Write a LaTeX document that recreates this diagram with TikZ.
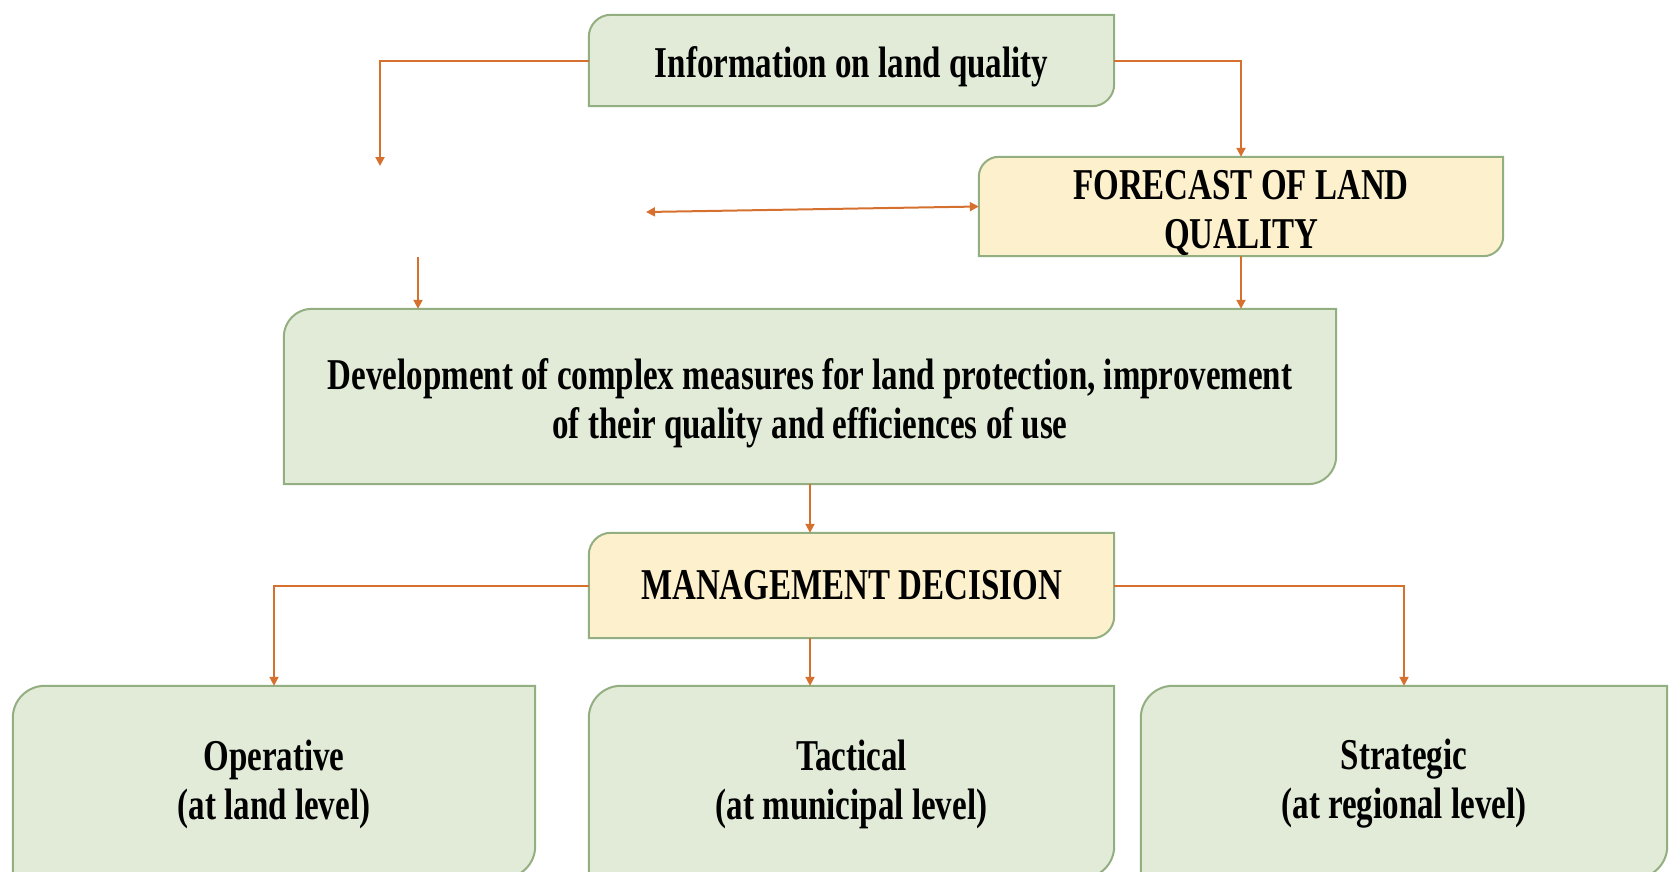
\documentclass[tikz,border=0pt]{standalone}
\usepackage{fontspec}
\setmainfont{Liberation Serif}[FakeStretch=0.75]
\usetikzlibrary{arrows.meta,backgrounds,calc}
\definecolor{gfill}{HTML}{E2EBD7}
\definecolor{yfill}{HTML}{FDF0CD}
\definecolor{bordc}{HTML}{93AE80}
\definecolor{arrc}{HTML}{D6702E}
\newcommand{\diagshape}[3]{%
 \begin{scope}[on background layer]
 \fill[black, opacity=0.12, xshift=2pt, yshift=-3pt]
   ([yshift=-#2pt]#1.north west) .. controls ([yshift=-0.45*#2pt]#1.north west) and ([xshift=0.45*#2pt]#1.north west) .. ([xshift=#2pt]#1.north west)
   -- (#1.north east) -- ([yshift=#2pt]#1.south east) .. controls ([yshift=0.45*#2pt]#1.south east) and ([xshift=-0.45*#2pt]#1.south east) .. ([xshift=-#2pt]#1.south east)
   -- (#1.south west) -- cycle;
 \path[draw=bordc, line width=2pt, fill=#3]
   ([yshift=-#2pt]#1.north west) .. controls ([yshift=-0.45*#2pt]#1.north west) and ([xshift=0.45*#2pt]#1.north west) .. ([xshift=#2pt]#1.north west)
   -- (#1.north east) -- ([yshift=#2pt]#1.south east) .. controls ([yshift=0.45*#2pt]#1.south east) and ([xshift=-0.45*#2pt]#1.south east) .. ([xshift=-#2pt]#1.south east)
   -- (#1.south west) -- cycle;
 \end{scope}}
\begin{document}
\begin{tikzpicture}[x=1pt,y=-1pt,
  frame/.style={inner sep=0pt},
  txt/.style={inner sep=0pt, align=center, font=\bfseries\fontsize{44}{49}\selectfont},
  conn/.style={draw=arrc, line width=2pt, -{Triangle[width=9pt,length=9pt]}}]
\clip (0,0) rectangle (1675,871);
\useasboundingbox (0,0) rectangle (1675,871);
\node[frame, minimum width=525pt, minimum height=91pt] (info) at (851.5,60.5) {};
\node[frame, minimum width=524pt, minimum height=99pt] (forecast) at (1241,206.5) {};
\node[frame, minimum width=1052pt, minimum height=175pt] (dev) at (810,396.5) {};
\node[frame, minimum width=525pt, minimum height=105pt] (mgmt) at (851.5,585.5) {};
\node[frame, minimum width=522pt, minimum height=192pt] (oper) at (274,782) {};
\node[frame, minimum width=525pt, minimum height=192pt] (tact) at (851.5,782) {};
\node[frame, minimum width=526pt, minimum height=192pt] (strat) at (1404,782) {};
\node[txt] (infot) at ([yshift=-6.5pt]info.center) {Information on land quality};
\node[txt] (forecastt) at ([yshift=-6.5pt]forecast.center) {FORECAST OF LAND\\QUALITY};
\node[txt] (devt) at ([yshift=-7pt]dev.center) {Development of complex measures for land protection, improvement\\of their quality and efficiences of use};
\node[txt] (mgmtt) at (mgmt.center) {MANAGEMENT DECISION};
\node[txt] (opert) at ([yshift=-2pt]oper.center) {Operative\\(at land level)};
\node[txt] (tactt) at ([yshift=-2pt]tact.center) {Tactical\\(at municipal level)};
\node[txt] (stratt) at ([yshift=-2pt]strat.center) {Strategic\\(at regional level)};
\diagshape{info}{22}{gfill}
\diagshape{forecast}{20}{yfill}
\diagshape{dev}{28}{gfill}
\diagshape{mgmt}{22}{yfill}
\diagshape{oper}{32}{gfill}
\diagshape{tact}{32}{gfill}
\diagshape{strat}{32}{gfill}
\coordinate (c1) at (380,166);
\coordinate (c2) at (646,212);
\coordinate (c3) at (418,257);
\draw[conn] (info.west) -| (c1);
\draw[conn] (info.east) -| (forecast.north);
\draw[conn, {Triangle[width=9pt,length=9pt]}-{Triangle[width=9pt,length=9pt]}] (c2) -- (forecast.west);
\draw[conn] (c3) -- (c3 |- dev.north);
\draw[conn] (forecast.south) -- (forecast.south |- dev.north);
\draw[conn] (dev.south) -- (dev.south |- mgmt.north);
\draw[conn] (mgmt.west) -| (oper.north);
\draw[conn] (mgmt.east) -| (strat.north);
\draw[conn] (mgmt.south -| dev.south) -- (tact.north -| dev.south);
\end{tikzpicture}
\end{document}
